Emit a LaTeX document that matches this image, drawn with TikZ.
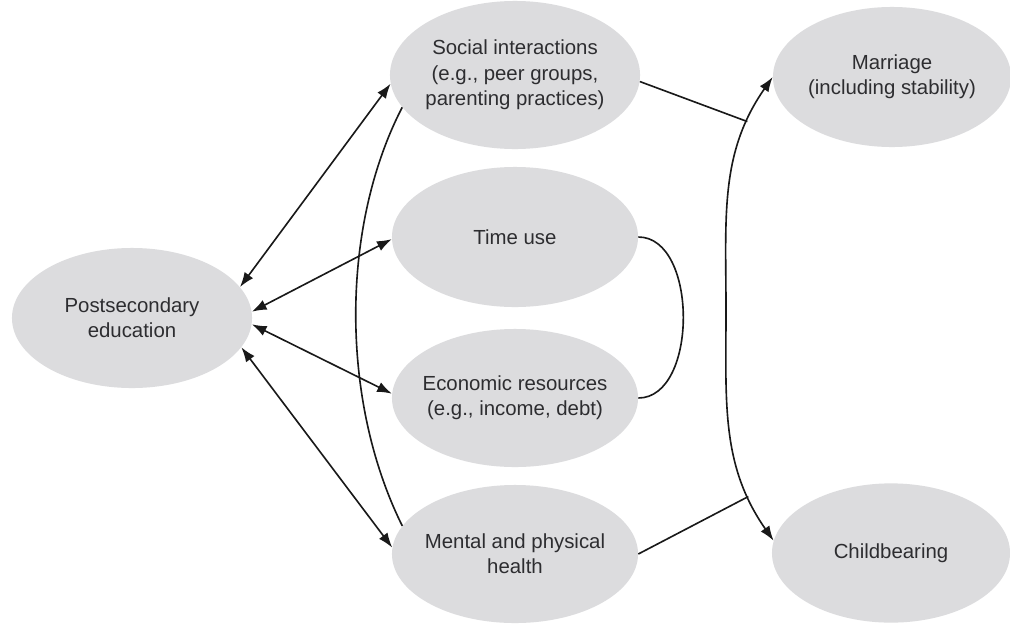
\documentclass[tikz,border=0pt]{standalone}
\usepackage{fontspec}
\setmainfont{Liberation Sans}
\usetikzlibrary{shapes.geometric,arrows.meta}
\definecolor{nodefill}{RGB}{220,220,222}
\definecolor{txt}{RGB}{45,45,48}
\definecolor{ln}{RGB}{25,25,25}
\begin{document}
\begin{tikzpicture}[x=0.025cm,y=-0.025cm,
  ell/.style={ellipse,fill=nodefill,draw=none,inner xsep=-8pt,inner ysep=0pt,align=center,text=txt,
    font=\fontsize{14.5}{18}\selectfont},
  conn/.style={draw=ln,line width=1.15pt},
  tip/.tip={Latex[length=10.5pt,width=7.5pt]},
  dbl/.style={conn,tip-tip},
]
\useasboundingbox (0,0) rectangle (1010,625);
\fill[white] (0,0) rectangle (1010,625);
% nodes
\node[ell,minimum width=6cm,minimum height=3.5cm] (ps) at (132,318) {Postsecondary\\education};
\node[ell,minimum width=6.25cm,minimum height=3.7cm] (soc) at (515,75) {Social interactions\\(e.g., peer groups,\\parenting practices)};
\node[ell,minimum width=6.15cm,minimum height=3.5cm] (time) at (515,237) {Time use};
\node[ell,minimum width=6.15cm,minimum height=3.45cm] (econ) at (515,398) {Economic resources\\(e.g., income, debt)};
\node[ell,minimum width=6.15cm,minimum height=3.45cm] (ment) at (515,554) {Mental and physical\\health};
\node[ell,minimum width=5.95cm,minimum height=3.5cm] (mar) at (892,77) {Marriage\\(including stability)};
\node[ell,minimum width=5.95cm,minimum height=3.48cm] (child) at (891,553) {Childbearing};
% double arrows from postsecondary
\draw[dbl] (ps.16) -- (soc.184);
\draw[dbl] (ps.3) -- (time.181);
\draw[dbl] (ps.-3) -- (econ.178);
\draw[dbl] (ps.-15) -- (ment.177);
% curve linking social interactions and health
\draw[conn] (soc.196) .. controls +(-62,120) and +(-62,-125) .. (ment.166);
% bracket linking time use and economic resources
\draw[conn] (time.0) .. controls +(60,0) and +(60,0) .. (econ.0);
% vertical double arrow marriage <-> childbearing
\coordinate (vmid) at (726,310);
\draw[dbl] (mar.180) to[out=235,in=90] coordinate[pos=0.2] (j1) (vmid)
  to[out=-90,in=125] coordinate[pos=0.8] (j2) (child.174);
\draw[conn] (soc.-3) -- (j1);
\draw[conn] (ment.0) -- (j2);
\end{tikzpicture}
\end{document}
